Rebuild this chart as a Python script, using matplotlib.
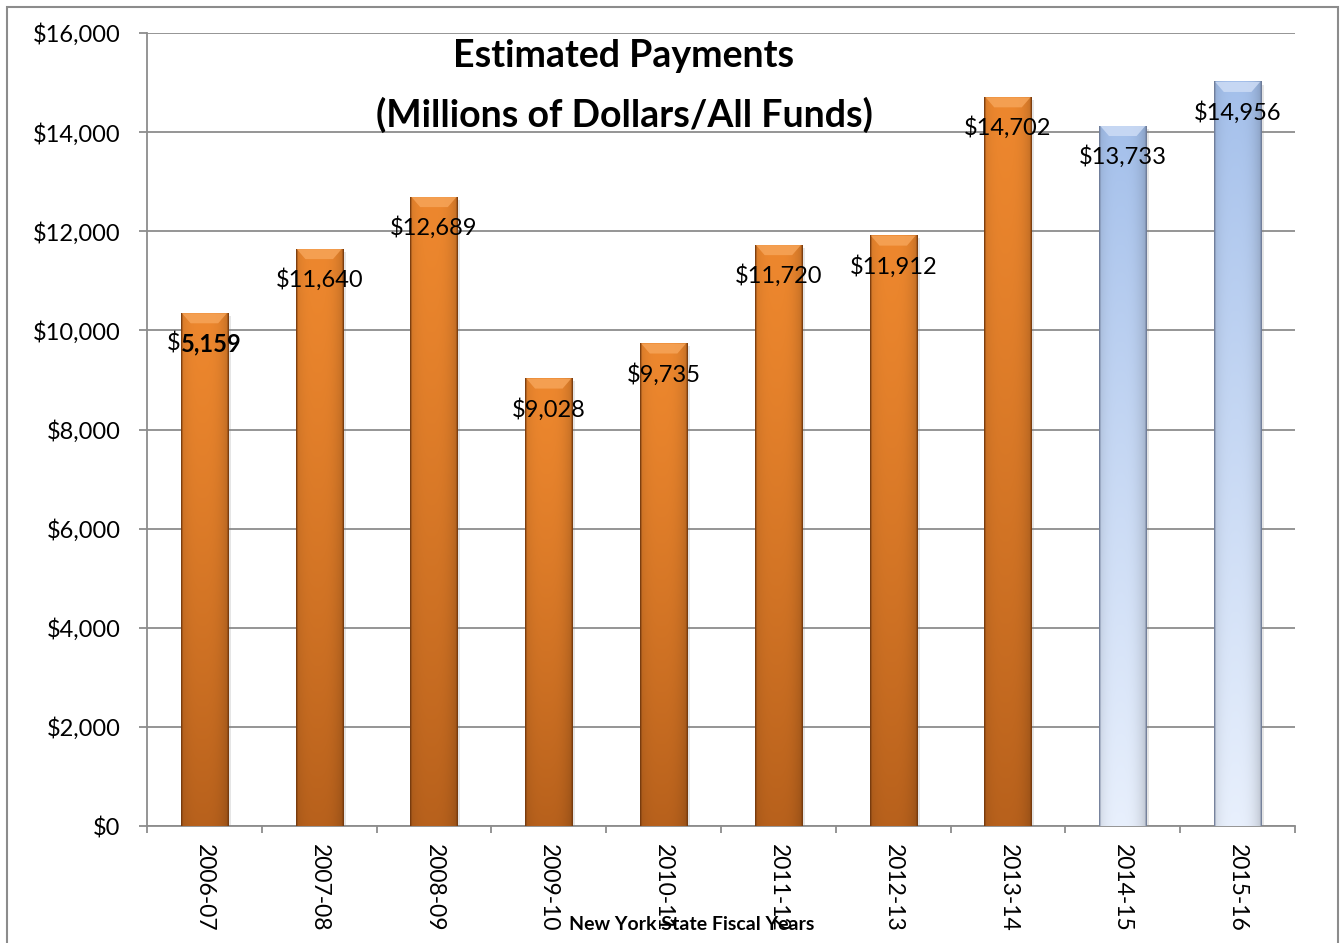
import numpy as np
import matplotlib
matplotlib.use("Agg")
import matplotlib.pyplot as plt
import matplotlib.patheffects as pe
from matplotlib.patches import Polygon, Rectangle
from matplotlib.ticker import FuncFormatter

# Data
years = ["2006-07", "2007-08", "2008-09", "2009-10", "2010-11",
         "2011-12", "2012-13", "2013-14", "2014-15", "2015-16"]
bar_heights = [10345, 11640, 12689, 9028, 9735, 11720, 11912, 14702, 14123, 15012]
label_values = [5159, 11640, 12689, 9028, 9735, 11720, 11912, 14702, 13733, 14956]
projected = [False, False, False, False, False, False, False, False, True, True]
bold_label = [True, False, False, False, False, False, False, False, False, False]

plt.rcParams["font.family"] = ["Lato", "DejaVu Sans"]
GRID = "#8c8c8c"


def bar_gradient(kind, nx=80, ny=200):
    """RGB image giving the cylinder-like shading of one bar."""
    xs = np.linspace(0, 1, nx)
    ys = np.linspace(0, 1, ny)[:, None]  # 0 = top, 1 = bottom
    if kind == "orange":
        top = np.array([0.93, 0.53, 0.18])
        bot = np.array([0.72, 0.38, 0.11])
        edge = np.array([0.45, 0.22, 0.05])
        t = ys ** 1.3
    else:
        top = np.array([0.64, 0.75, 0.92])
        bot = np.array([0.91, 0.94, 0.99])
        edge = np.array([0.42, 0.47, 0.58])
        t = ys ** 0.9
    col = top[None, None, :] * (1 - t[..., None]) + bot[None, None, :] * t[..., None]
    col = np.repeat(col, nx, axis=1)
    # darken toward both sides, a bit more on the right
    d = np.abs(xs - 0.45) / 0.55
    shade = 1 - 0.18 * d ** 3
    col = col * shade[None, :, None]
    # thin dark outline on the sides
    w = np.clip(1 - np.minimum(xs, 1 - xs) / 0.04, 0, 1)
    col = col * (1 - w[None, :, None]) + edge[None, None, :] * w[None, :, None]
    return np.clip(col, 0, 1)


fig = plt.figure(figsize=(13.41, 9.43), dpi=100)
ax = fig.add_axes([147 / 1341, 1 - 826 / 943, (1295 - 147) / 1341, (826 - 33) / 943])

x = np.arange(len(years))
face = ["#a9c1ea" if p else "#e07a26" for p in projected]
bars = ax.bar(x, bar_heights, width=0.41, color=face, zorder=2,
              path_effects=[pe.SimplePatchShadow(offset=(2, -2), shadow_rgbFace="0.5", alpha=0.2),
                            pe.Normal()])

bevel_h = 10 * 16000 / 793   # ~10 px in data units
for bar, p in zip(bars, projected):
    kind = "blue" if p else "orange"
    x0, w, h = bar.get_x(), bar.get_width(), bar.get_height()
    ax.imshow(bar_gradient(kind), extent=[x0, x0 + w, 0, h], aspect="auto",
              origin="upper", zorder=3, clip_path=bar, interpolation="bilinear")
    d = 0.085
    light = "#f6a458" if kind == "orange" else "#cddcf5"
    ax.add_patch(Polygon([(x0 + 0.01, h), (x0 + w - 0.01, h),
                          (x0 + w - d, h - bevel_h), (x0 + d, h - bevel_h)],
                         closed=True, facecolor=light, edgecolor="none", alpha=0.85, zorder=4))

# data labels, centred ~30 px below each bar top
for xi, h, v, b in zip(x, bar_heights, label_values, bold_label):
    txt = f"{v:,}"
    if b:
        ax.annotate("$", xy=(xi, h), xytext=(-17, -22), textcoords="offset points",
                    ha="right", va="center", fontsize=17, zorder=6)
        ax.annotate(txt, xy=(xi, h), xytext=(-17, -22), textcoords="offset points",
                    ha="left", va="center", fontsize=17, fontweight="bold", zorder=6)
    else:
        ax.annotate("$" + txt, xy=(xi, h), xytext=(0, -22), textcoords="offset points",
                    ha="center", va="center", fontsize=17, zorder=6)

ax.set_xlim(-0.5, len(years) - 0.5)
ax.set_ylim(0, 16000)
ax.set_yticks(np.arange(0, 16001, 2000))
ax.yaxis.set_major_formatter(FuncFormatter(lambda v, _: f"${v:,.0f}"))
ax.yaxis.grid(True, color=GRID, lw=1.3)
ax.set_axisbelow(True)

ax.set_xticks(np.arange(-0.5, len(years), 1))
ax.set_xticklabels([])
ax.set_xticks(x, minor=True)
ax.set_xticklabels(years, minor=True, rotation=270)
ax.tick_params(axis="x", which="major", length=5, width=1.3, color=GRID)
ax.tick_params(axis="x", which="minor", length=0, pad=13, labelsize=16.5)
ax.tick_params(axis="y", length=6, width=1.3, color=GRID, pad=13, labelsize=17)

for s in ["top", "right"]:
    ax.spines[s].set_visible(False)
for s in ["left", "bottom"]:
    ax.spines[s].set_color(GRID)
    ax.spines[s].set_linewidth(1.3)

fig.text(624 / 1341, 1 - 67 / 943, "Estimated Payments", ha="center", va="baseline",
         fontsize=27, fontweight="bold")
fig.text(624 / 1341, 1 - 127 / 943, "(Millions of Dollars/All Funds)", ha="center",
         va="baseline", fontsize=27, fontweight="bold")
fig.text(692 / 1341, 1 - 925 / 943, "New York State Fiscal Years", ha="center",
         va="center", fontsize=14, fontweight="bold")

fig.add_artist(Rectangle((7 / 1341, -0.01), (1338 - 7) / 1341, 1 - 7 / 943 + 0.01,
                         transform=fig.transFigure, fill=False, edgecolor=GRID, lw=1.5))

fig.savefig("out.png", dpi=100)
